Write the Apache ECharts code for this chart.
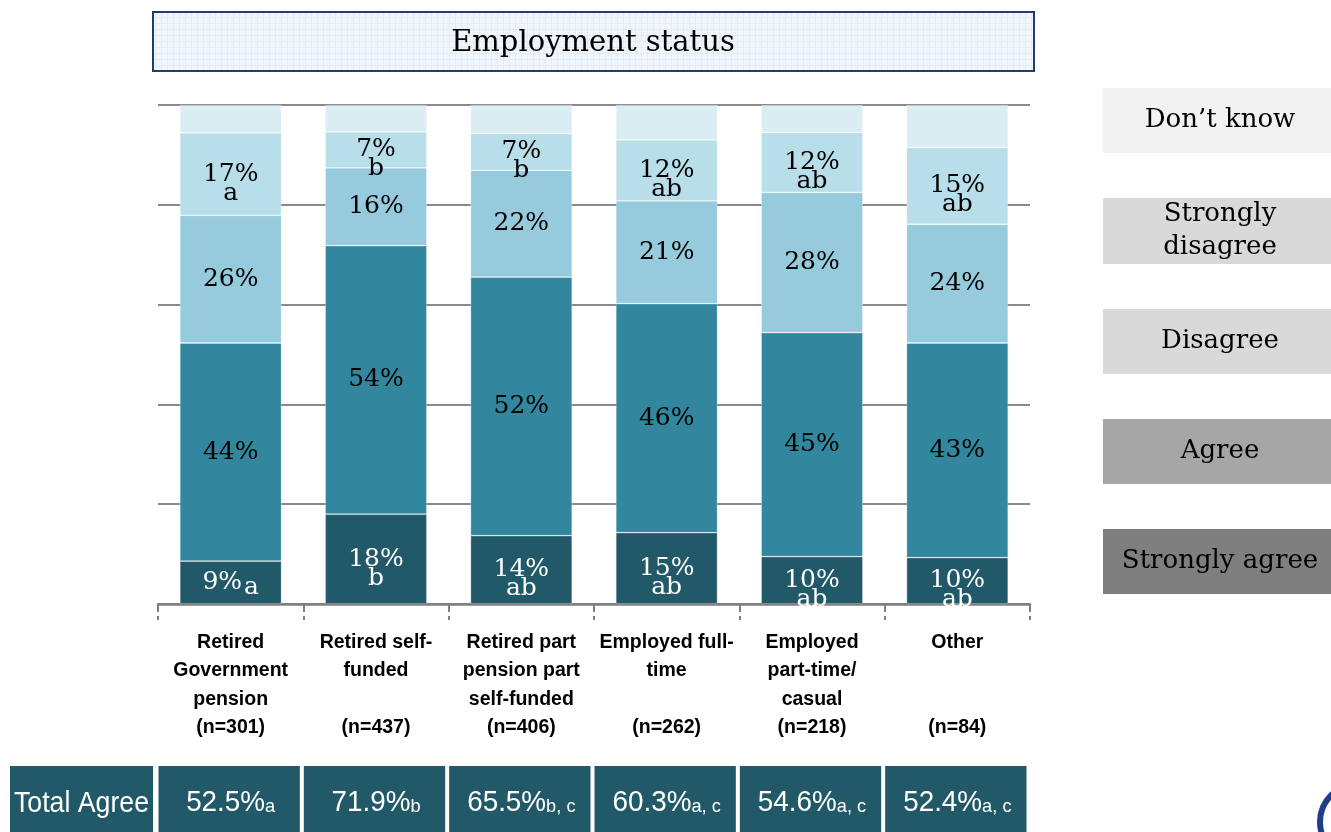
<!DOCTYPE html>
<html>
<head>
<meta charset="utf-8">
<script src="https://cdn.jsdelivr.net/npm/echarts@6/dist/echarts.min.js"></script>
<style>
html,body{margin:0;padding:0;background:#fff;}
#chart{width:1331px;height:832px;}
</style>
</head>
<body>
<div id="chart"></div>
<script>
// ---- data ----
const categories = ['Retired\nGovernment\npension', 'Retired self-\nfunded', 'Retired part\npension part\nself-funded', 'Employed full-\ntime', 'Employed\npart-time/\ncasual', 'Other'];
const sampleSizes = [301, 437, 406, 262, 218, 84];
const seriesNames = ['Strongly agree', 'Agree', 'Disagree', 'Strongly disagree', 'Don\u2019t know'];

// segment sizes (percent of bar)
const stronglyAgree    = [8.6, 18.0, 13.7, 14.3, 9.5, 9.3];
const agree            = [43.7, 53.8, 51.8, 45.9, 44.9, 43.0];
const disagree         = [25.6, 15.6, 21.4, 20.6, 28.1, 23.8];
const stronglyDisagree = [16.5, 7.2, 7.4, 12.2, 12.0, 15.4];
const dontKnow         = [5.6, 5.4, 5.7, 7.0, 5.5, 8.5];

// printed labels
const stronglyAgreeLabels = [9, 18, 14, 15, 10, 10];
const stronglyAgreeLetters = ['a', 'b', 'ab', 'ab', 'ab', 'ab'];
const agreeLabels = [44, 54, 52, 46, 45, 43];
const disagreeLabels = [26, 16, 22, 21, 28, 24];
const stronglyDisagreeLabels = [17, 7, 7, 12, 12, 15];
const stronglyDisagreeLetters = ['a', 'b', 'b', 'ab', 'ab', 'ab'];

const totalAgree = [52.5, 71.9, 65.5, 60.3, 54.6, 52.4];
const totalAgreeLetters = ['a', 'b', 'b, c', 'a, c', 'a, c', 'a, c'];

// ---- styles ----
const colors = ['#225968', '#32869d', '#95cbdd', '#b8dee9', '#daedf3'];
const legendBg = ['#7f7f7f', '#a6a6a6', '#d9d9d9', '#d9d9d9', '#f2f2f2'];
const serif = 'DejaVu Serif';
const sans = 'Liberation Sans, Arial, sans-serif';

function makeLabel(values, letters, color, inlineBelow) {
  return {
    show: true,
    position: 'inside',
    color: color,
    fontFamily: serif,
    fontSize: 25,
    formatter: function (p) {
      const v = values[p.dataIndex];
      const l = letters ? letters[p.dataIndex] : '';
      if (!l) return '{p|' + v + '%}';
      if (v < inlineBelow) return '{p|' + v + '%}{li|' + l + '}';
      return '{e| }\n{p|' + v + '%}\n{l|' + l + '}';
    },
    rich: {
      e: { fontSize: 25, fontFamily: serif, lineHeight: 19 },
      p: { fontSize: 25, fontFamily: serif, lineHeight: 19 },
      l: { fontSize: 25, fontFamily: serif, lineHeight: 19 },
      li: { fontSize: 25, fontFamily: serif, lineHeight: 19, padding: [9, 0, 0, 2] }
    }
  };
}

const seriesData = [stronglyAgree, agree, disagree, stronglyDisagree, dontKnow];
const labelDefs = [
  makeLabel(stronglyAgreeLabels, stronglyAgreeLetters, '#ffffff', 10),
  makeLabel(agreeLabels, null, '#000000', 0),
  makeLabel(disagreeLabels, null, '#000000', 0),
  makeLabel(stronglyDisagreeLabels, stronglyDisagreeLetters, '#000000', 0),
  { show: false }
];

const series = seriesNames.map(function (name, i) {
  return {
    name: name,
    type: 'bar',
    stack: 'total',
    barWidth: '70%',
    data: seriesData[i],
    itemStyle: { color: colors[i], borderColor: 'rgba(255,255,255,0.35)', borderWidth: 0.8 },
    label: labelDefs[i],
    emphasis: { disabled: true }
  };
});

// legend rich styles
const legendRich = {};
seriesNames.forEach(function (n, i) {
  legendRich['k' + i] = { width: 234, height: 65, lineHeight: 65, align: 'center', backgroundColor: legendBg[i], fontFamily: serif, fontSize: 26, color: '#000' };
  legendRich['m' + i] = { width: 234, height: 33, lineHeight: 33, align: 'center', backgroundColor: legendBg[i], fontFamily: serif, fontSize: 26, color: '#000' };
});

const chart = echarts.init(document.getElementById('chart'), null, { renderer: 'canvas' });

// pattern for title box
const pc = document.createElement('canvas');
pc.width = 6; pc.height = 6;
const pctx = pc.getContext('2d');
pctx.fillStyle = '#f1f6fd'; pctx.fillRect(0, 0, 6, 6);
pctx.fillStyle = '#e2ebf6'; pctx.fillRect(5, 0, 1, 6); pctx.fillRect(0, 5, 6, 1);

chart.setOption({
  animation: false,
  backgroundColor: '#ffffff',
  grid: { left: 158, right: 301, top: 105, bottom: 228, containLabel: false },
  legend: {
    orient: 'vertical',
    left: 1092,
    top: 83,
    itemGap: 45,
    itemWidth: 0,
    itemHeight: 0,
    selectedMode: false,
    data: seriesNames.slice().reverse(),
    formatter: function (name) {
      const i = seriesNames.indexOf(name);
      if (name === 'Strongly disagree') return '{m' + i + '|Strongly}\n{m' + i + '|disagree}';
      return '{k' + i + '|' + name + '}';
    },
    textStyle: { fontFamily: serif, fontSize: 26, color: '#000', padding: 0, rich: legendRich }
  },
  xAxis: {
    type: 'category',
    data: categories,
    axisLine: { show: true, lineStyle: { color: '#7f7f7f', width: 2.5 } },
    axisTick: { show: true, alignWithLabel: false, length: 16, lineStyle: { color: '#7f7f7f', width: 2, type: [8, 4] } },
    axisLabel: {
      interval: 0,
      margin: 24,
      color: '#000',
      fontFamily: sans,
      fontWeight: 'bold',
      fontSize: 19.5,
      lineHeight: 28.5,
      verticalAlign: 'top',
      formatter: function (value, idx) {
        const lines = value.split('\n');
        while (lines.length < 3) lines.push(' ');
        lines.push('(n=' + sampleSizes[idx] + ')');
        return lines.join('\n');
      }
    }
  },
  yAxis: {
    type: 'value',
    min: 0,
    max: 100,
    interval: 20,
    axisLabel: { show: false },
    axisLine: { show: false },
    axisTick: { show: false },
    splitLine: { show: true, lineStyle: { color: '#8a8a8a', width: 2 } }
  },
  series: series
});

// decorations and total-agree table, positioned from the category axis
const graphics = [];
graphics.push({
  type: 'rect', shape: { x: 153, y: 12, width: 881, height: 59 },
  style: { fill: { image: pc, repeat: 'repeat' }, stroke: '#1f3e6e', lineWidth: 2 }, z: 10
});
graphics.push({
  type: 'text', style: { text: 'Employment status', x: 593, y: 43, align: 'center', verticalAlign: 'middle', font: '29px "DejaVu Serif"', fill: '#000' }, z: 11
});
graphics.push({
  type: 'rect', shape: { x: 10, y: 766, width: 143, height: 70 }, style: { fill: '#225968' }, z: 10
});
graphics.push({
  type: 'text', x: 14, y: 804, scaleX: 0.92, scaleY: 1,
  style: { text: 'Total Agree', x: 0, y: 0, align: 'left', verticalAlign: 'middle', font: '29px "Liberation Sans", Arial', fill: '#fff' }, z: 11
});
const step = chart.convertToPixel({ xAxisIndex: 0 }, 1) - chart.convertToPixel({ xAxisIndex: 0 }, 0);
categories.forEach(function (c, i) {
  const cx = chart.convertToPixel({ xAxisIndex: 0 }, i);
  graphics.push({
    type: 'rect', shape: { x: cx - step / 2 + 0.5, y: 766, width: step - 4, height: 70 }, style: { fill: '#225968' }, z: 10
  });
  graphics.push({
    type: 'text', z: 11, x: cx, y: 803, scaleX: 0.96, scaleY: 1,
    style: {
      text: '{m|' + totalAgree[i].toFixed(1) + '%}{s|' + totalAgreeLetters[i] + '}',
      x: 0, y: 0, align: 'center', verticalAlign: 'middle',
      fill: '#fff',
      rich: {
        m: { fontSize: 29, fontFamily: 'Liberation Sans', fill: '#fff', lineHeight: 32 },
        s: { fontSize: 19, fontFamily: 'Liberation Sans', fill: '#fff', lineHeight: 32, padding: [7, 0, 0, 0] }
      }
    }
  });
});
graphics.push({
  type: 'circle', shape: { cx: 1358, cy: 822, r: 38 }, style: { fill: '#fff', stroke: '#203d8a', lineWidth: 6 }, z: 10
});
chart.setOption({ graphic: graphics });
</script>
</body>
</html>
